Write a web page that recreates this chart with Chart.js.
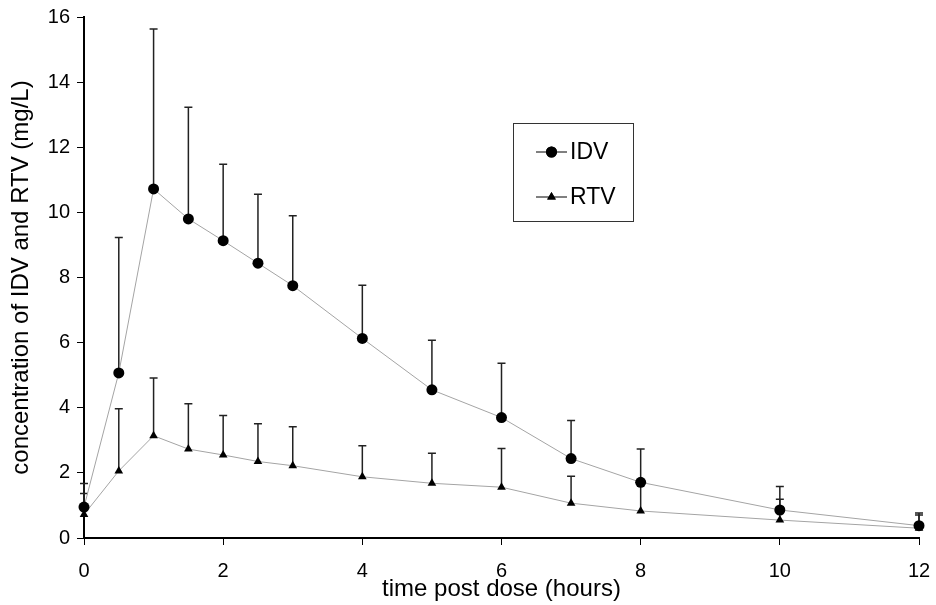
<!DOCTYPE html>
<html>
<head>
<meta charset="utf-8">
<script src="https://cdn.jsdelivr.net/npm/chart.js@4/dist/chart.umd.min.js"></script>
<style>
    html, body { margin: 0; padding: 0; background: #fff; }
    #wrap { width: 936px; height: 605px; }
</style>
</head>
<body>
<div id="wrap"><canvas id="pkChart" width="936" height="605"></canvas></div>
<script>
// sampling times and mean concentrations (mg/L), upward bars are SD
const hours = [0, 0.5, 1, 1.5, 2, 2.5, 3, 4, 5, 6, 7, 8, 10, 12];
const idvMean = [0.95, 5.07, 10.72, 9.80, 9.13, 8.44, 7.75, 6.13, 4.55, 3.70, 2.44, 1.71, 0.86, 0.38];
const idvSd = [0.72, 4.16, 4.91, 3.43, 2.35, 2.12, 2.15, 1.63, 1.52, 1.67, 1.17, 1.02, 0.72, 0.39];
const rtvMean = [0.72, 2.06, 3.14, 2.73, 2.55, 2.35, 2.22, 1.88, 1.68, 1.56, 1.07, 0.83, 0.55, 0.30];
const rtvSd = [0.65, 1.91, 1.77, 1.39, 1.21, 1.16, 1.20, 0.95, 0.92, 1.19, 0.83, 0.87, 0.64, 0.41];
const xTicks = [0, 2, 4, 6, 8, 10, 12];
const yTicks = [0, 2, 4, 6, 8, 10, 12, 14, 16];

const FONT = "'Liberation Sans', Arial, sans-serif";

function toPoints(values) {
    return hours.map((h, i) => ({ x: h, y: values[i] }));
}

// SD bars drawn under the markers
const errorBars = {
    id: "errorBars",
    beforeDatasetsDraw(chart) {
        const ctx = chart.ctx;
        const xs = chart.scales.x;
        const ys = chart.scales.y;
        ctx.save();
        ctx.strokeStyle = "#222";
        ctx.lineWidth = 1.5;
        chart.data.datasets.forEach((ds) => {
            ds.sd.forEach((sd, i) => {
                const x = xs.getPixelForValue(hours[i]);
                const y0 = ys.getPixelForValue(ds.data[i].y);
                const y1 = ys.getPixelForValue(ds.data[i].y + sd);
                ctx.beginPath();
                ctx.moveTo(x, y0);
                ctx.lineTo(x, y1);
                ctx.moveTo(x - 4, y1);
                ctx.lineTo(x + 4, y1);
                ctx.stroke();
            });
        });
        ctx.restore();
    }
};

// boxed legend with line + marker samples
const boxLegend = {
    id: "boxLegend",
    afterDraw(chart) {
        const ctx = chart.ctx;
        const left = 513, top = 123, w = 120, h = 98;
        ctx.save();
        ctx.fillStyle = "#fff";
        ctx.fillRect(left, top, w, h);
        ctx.strokeStyle = "#333";
        ctx.lineWidth = 1;
        ctx.strokeRect(left + 0.5, top + 0.5, w, h);
        chart.data.datasets.forEach((ds, i) => {
            const y = 152 + i * 45;
            ctx.strokeStyle = "#000";
            ctx.lineWidth = 1;
            ctx.beginPath();
            ctx.moveTo(536, y);
            ctx.lineTo(567, y);
            ctx.stroke();
            ctx.fillStyle = "#000";
            Chart.helpers.drawPoint(ctx, {
                pointStyle: ds.pointStyle,
                radius: ds.pointRadius,
                rotation: 0,
                borderWidth: 0
            }, 551.5, y);
            ctx.fill();
            ctx.font = "23px " + FONT;
            ctx.textBaseline = "middle";
            ctx.textAlign = "left";
            ctx.fillText(ds.label, 570, y + 1);
        });
        ctx.restore();
    }
};

const ctx = document.getElementById("pkChart").getContext("2d");
new Chart(ctx, {
    type: "line",
    data: {
        datasets: [
            {
                label: "IDV",
                data: toPoints(idvMean),
                sd: idvSd,
                borderColor: "#a4a4a4",
                borderWidth: 1,
                pointStyle: "circle",
                pointRadius: 5.5,
                pointBackgroundColor: "#000",
                pointBorderColor: "#000",
                pointBorderWidth: 0,
                clip: false
            },
            {
                label: "RTV",
                data: toPoints(rtvMean),
                sd: rtvSd,
                borderColor: "#a4a4a4",
                borderWidth: 1,
                pointStyle: "triangle",
                pointRadius: 5,
                pointBackgroundColor: "#000",
                pointBorderColor: "#000",
                pointBorderWidth: 0,
                clip: false
            }
        ]
    },
    options: {
        responsive: false,
        animation: false,
        events: [],
        layout: { padding: { top: 17, right: 17, left: 0, bottom: 0 } },
        plugins: {
            legend: { display: false },
            tooltip: { enabled: false }
        },
        scales: {
            x: {
                type: "linear",
                min: 0,
                max: 12,
                afterFit: (scale) => {
                    scale.height = 67;
                    scale.paddingLeft = 0;
                    scale.paddingRight = 0;
                },
                afterBuildTicks: (scale) => { scale.ticks = xTicks.map(v => ({ value: v })); },
                border: { color: "#000", width: 2 },
                grid: { drawOnChartArea: false, drawTicks: true, tickLength: 7, color: "#000", lineWidth: 1 },
                ticks: { color: "#000", padding: 14, font: { family: FONT, size: 20 } },
                title: {
                    display: true,
                    text: "time post dose (hours)",
                    color: "#000",
                    padding: { top: 0, bottom: 1 },
                    font: { family: FONT, size: 24 }
                }
            },
            y: {
                min: 0,
                max: 16,
                afterFit: (scale) => {
                    scale.width = 84;
                    scale.paddingTop = 0;
                    scale.paddingBottom = 0;
                },
                afterBuildTicks: (scale) => { scale.ticks = yTicks.map(v => ({ value: v })); },
                border: { color: "#000", width: 2 },
                grid: { drawOnChartArea: false, drawTicks: true, tickLength: 7, color: "#000", lineWidth: 1 },
                ticks: { color: "#000", padding: 7, font: { family: FONT, size: 20 } },
                title: {
                    display: true,
                    text: "concentration of IDV and RTV (mg/L)",
                    color: "#000",
                    padding: { top: 7, bottom: 0 },
                    font: { family: FONT, size: 24 }
                }
            }
        }
    },
    plugins: [errorBars, boxLegend]
});
</script>
</body>
</html>
